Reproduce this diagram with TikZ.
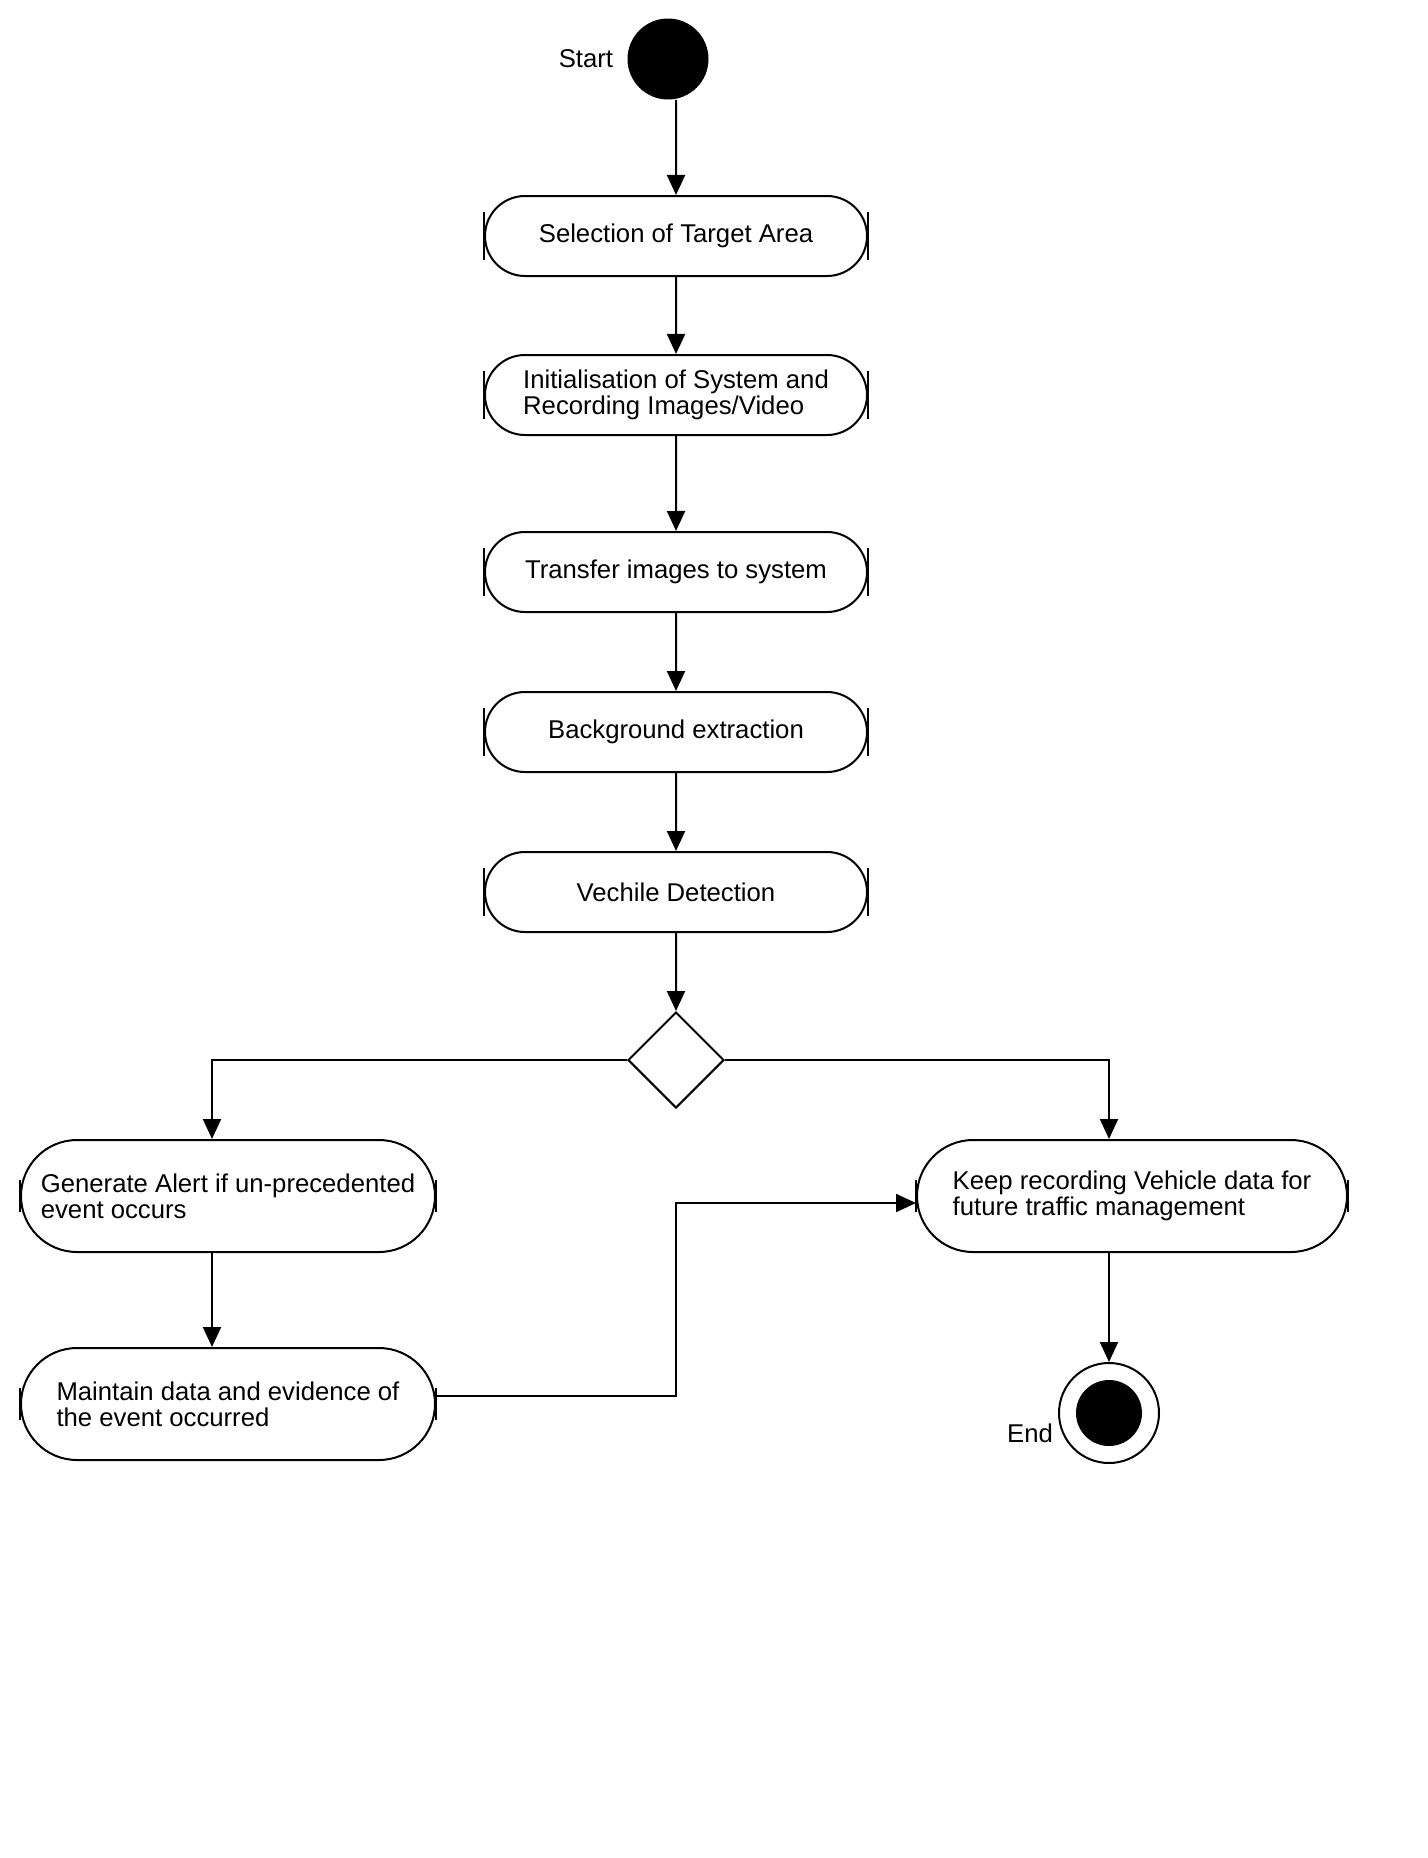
\documentclass[tikz,border=0pt]{standalone}
\usepackage{fontspec}
\setmainfont{Liberation Sans}
\usetikzlibrary{shapes.geometric,shapes.misc,arrows.meta}
\tikzset{
  activity/.style={rounded rectangle, draw, line width=1pt, fill=white, minimum width=191pt, minimum height=40pt, inner sep=0pt, align=left},
  bigactivity/.style={activity, minimum height=56pt},
  flow/.style={-{Triangle[length=10pt,width=9pt]}, line width=1pt},
}
\begin{document}
\begin{tikzpicture}[x=0.5pt, y=-0.5pt, font=\fontsize{12.85}{13}\selectfont]
    \useasboundingbox (0,0) rectangle (1428,1858);
    % start and the main column of activities
    \node[circle, fill=black, minimum size=40.5pt, inner sep=0pt, label={[label distance=3.5pt]left:Start}] (start) at (668,59) {};
    \node[activity] (sel) at (676,236) {Selection of Target Area};
    \node[activity] (init) at (676,395) {Initialisation of System and\\Recording Images/Video};
    \node[activity] (xfer) at (676,572) {Transfer images to system};
    \node[activity] (bgx) at (676,732) {Background extraction};
    \node[activity] (vdet) at (676,892) {Vechile Detection};
    \node[diamond, draw, line width=1pt, fill=white, minimum width=48pt, minimum height=48pt, inner sep=0pt] (dec) at (676,1060) {};

    % the two branches
    \node[bigactivity, minimum width=207pt] (alert) at (228,1196) {Generate Alert if un-precedented\\event occurs};
    \node[bigactivity, minimum width=207pt] (evid) at (228,1404) {Maintain data and evidence of\\the event occurred};
    \node[bigactivity, minimum width=215pt] (keep) at (1132,1196) {Keep recording Vehicle data for\\future traffic management};
    \node[circle, draw, line width=1pt, fill=white, minimum size=50pt, inner sep=0pt,
          path picture={\fill[black] (path picture bounding box.center) circle (16.5pt);},
          label={[label distance=-1pt, yshift=-10pt]left:End}] (stop) at (1109,1413) {};

    % side bars of the activities
    \foreach \n/\h in {sel/12pt,init/12pt,xfer/12pt,bgx/12pt,vdet/12pt,alert/8pt,evid/8pt,keep/8pt} {
        \draw[line width=1pt] ([yshift=\h]\n.west) -- ([yshift=-\h]\n.west);
        \draw[line width=1pt] ([yshift=\h]\n.east) -- ([yshift=-\h]\n.east);
    }

    % flows
    \draw[flow] (start.south -| sel) -- (sel);
    \draw[flow] (sel) -- (init);
    \draw[flow] (init) -- (xfer);
    \draw[flow] (xfer) -- (bgx);
    \draw[flow] (bgx) -- (vdet);
    \draw[flow] (vdet) -- (dec);
    \draw[flow] (dec.west) -| ([xshift=-8pt]alert.north);
    \draw[flow] (dec.east) -| (stop |- keep.north);
    \draw[flow] ([xshift=-8pt]alert.south) -- ([xshift=-8pt]evid.north);
    \coordinate (join) at ([yshift=-3.5pt]keep.west);
    \draw[flow] ([yshift=4pt]evid.east) -| (dec |- join) -- (join);
    \draw[flow] (keep.south -| stop) -- (stop);
\end{tikzpicture}
\end{document}
